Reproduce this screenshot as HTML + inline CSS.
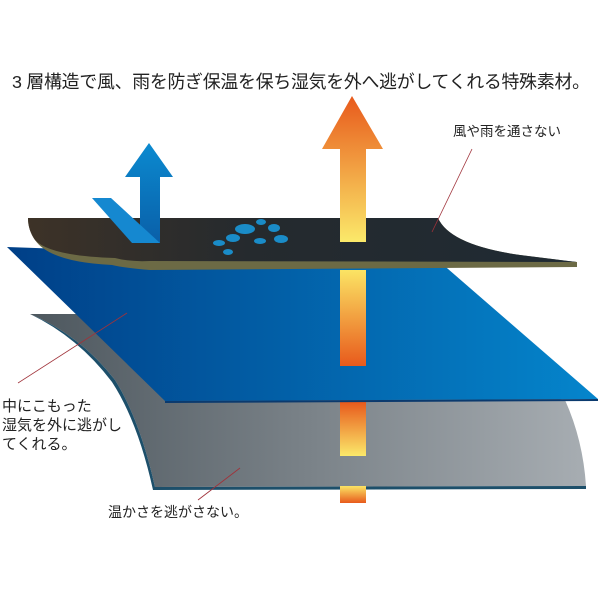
<!DOCTYPE html>
<html><head><meta charset="utf-8"><style>
html,body{margin:0;padding:0;background:#fff;}
svg{display:block;}
text{font-family:"Liberation Sans","Noto Sans CJK JP",sans-serif;fill:#222;}
</style></head><body>
<svg width="600" height="600" viewBox="0 0 600 600" xmlns="http://www.w3.org/2000/svg">
<defs>
<linearGradient id="gray" x1="0" x2="1" y1="0" y2="0"><stop offset="0" stop-color="#4d575e"/><stop offset="1" stop-color="#a7adb2"/></linearGradient>
<linearGradient id="blue" x1="0" x2="1" y1="0" y2="0"><stop offset="0" stop-color="#003f87"/><stop offset="1" stop-color="#0585cc"/></linearGradient>
<linearGradient id="black" x1="0" x2="1" y1="0" y2="0"><stop offset="0" stop-color="#3d3227"/><stop offset="0.4" stop-color="#252a2e"/><stop offset="1" stop-color="#1f2a33"/></linearGradient>
<linearGradient id="arrowUp" x1="0" x2="0" y1="0" y2="1"><stop offset="0" stop-color="#e85a1c"/><stop offset="1" stop-color="#fbe96a"/></linearGradient>
<linearGradient id="barDown" x1="0" x2="0" y1="0" y2="1"><stop offset="0" stop-color="#fbe464"/><stop offset="1" stop-color="#e85a1c"/></linearGradient>
<linearGradient id="bluearrow" x1="0" x2="0" y1="0" y2="1"><stop offset="0" stop-color="#0b8ad0"/><stop offset="1" stop-color="#0a5fa8"/></linearGradient>
</defs>
<text x="12" y="88" font-size="17.9" textLength="578">3 層構造で風、雨を防ぎ保温を保ち湿気を外へ逃がしてくれる特殊素材。</text>

<!-- gray layer -->
<path d="M30,314 L80,314 L565,400 Q583,440 586,486 L155,487 Q140,420 115,380 Q80,335 30,314 Z" fill="url(#gray)"/>
<path d="M30,314 Q80,335 115,380 Q140,420 155,487 L586,486 L586,489 L153,490 Q138,422 112,382 Q78,337 30,314 Z" fill="#1d4f6a"/>
<rect x="340" y="402" width="26" height="54" fill="url(#arrowUp)"/>
<rect x="340" y="486" width="26" height="17" fill="url(#barDown)"/>

<!-- blue layer -->
<path d="M7,247 L440,262 L598,399 L165,401 Z" fill="url(#blue)"/>
<path d="M165,401 L598,399 L598,401 L165,403 Z" fill="#0b3a6e"/>
<rect x="340" y="270" width="26" height="96" fill="url(#barDown)"/>

<!-- black layer -->
<path d="M28,218 L438,218 Q450,245 520,255 Q560,260 577,262 L577,267 L150,270 Q125,268 112,265 Q50,262 35,240 Q28,230 28,218 Z" fill="#6c6a45"/>
<path d="M28,218 L438,218 Q450,245 520,255 Q560,260 577,262 L150,261 Q130,262 115,258 Q50,256 35,240 Q28,230 28,218 Z" fill="url(#black)"/>

<!-- drops -->
<g fill="#1a8cc8">
<ellipse cx="245" cy="229" rx="10" ry="5"/><ellipse cx="261" cy="222" rx="5" ry="3"/><ellipse cx="274" cy="228" rx="6" ry="4"/>
<ellipse cx="233" cy="238" rx="7" ry="4"/><ellipse cx="260" cy="241" rx="6" ry="3"/><ellipse cx="281" cy="239" rx="7" ry="4"/>
<ellipse cx="219" cy="243" rx="6" ry="3"/><ellipse cx="228" cy="252" rx="5" ry="3"/>
</g>

<!-- orange arrow -->
<path d="M352,96 L383,149 L366,149 L366,242 L340,242 L340,149 L322,149 Z" fill="url(#arrowUp)"/>

<!-- blue arrow -->
<path d="M149,143 L173,177 L160,177 L160,243 L140,243 L140,177 L125,177 Z" fill="url(#bluearrow)"/>
<path d="M92,198 L111,198 L160,243 L132,243 Z" fill="#1588d0"/>

<!-- labels -->
<text x="453" y="136" font-size="13.5">風や雨を通さない</text>
<line x1="472" y1="149" x2="432" y2="232" stroke="#a0323a" stroke-width="0.8"/>
<text x="2" y="411" font-size="15">中にこもった</text>
<text x="2" y="430" font-size="15">湿気を外に逃がし</text>
<text x="2" y="449" font-size="15">てくれる。</text>
<line x1="18" y1="383" x2="127" y2="313" stroke="#a0323a" stroke-width="0.8"/>
<text x="108" y="517" font-size="14">温かさを逃がさない。</text>
<line x1="198" y1="500" x2="240" y2="468" stroke="#a0323a" stroke-width="0.8"/>
</svg>
</body></html>
